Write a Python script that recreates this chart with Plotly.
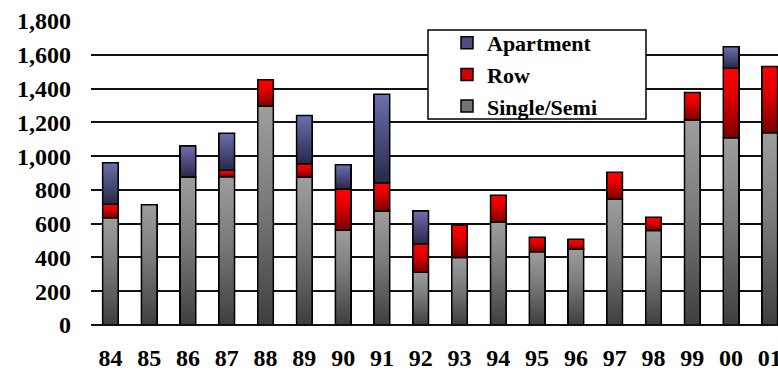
import plotly.graph_objects as go

# Housing starts by dwelling type, 1984-2001
years = ["84", "85", "86", "87", "88", "89", "90", "91", "92",
         "93", "94", "95", "96", "97", "98", "99", "00", "01"]
single_semi = [635, 712, 876, 878, 1297, 876, 562, 675, 312,
               399, 608, 434, 448, 746, 559, 1214, 1109, 1139]
row = [80, 0, 0, 38, 155, 79, 243, 166, 168,
       193, 160, 85, 59, 158, 79, 162, 411, 391]
apartment = [245, 0, 184, 219, 0, 285, 144, 525, 195,
             0, 0, 0, 0, 0, 0, 0, 128, 0]

series = [
    ("Single/Semi", single_semi, "#747474",
     [[0, "#3e3e3e"], [0.55, "#7a7a7a"], [1, "#9e9e9e"]]),
    ("Row", row, "#d40000",
     [[0, "#7a0000"], [0.6, "#e00000"], [1, "#ff0000"]]),
    ("Apartment", apartment, "#4e4e82",
     [[0, "#28284a"], [1, "#6e6eae"]]),
]

FONT = "Liberation Serif"
BAR_W = 0.4
idx = list(range(len(years)))

fig = go.Figure()

# stacked bars (data + legend entries)
for name, vals, solid, _ in series:
    fig.add_trace(go.Bar(
        x=idx, y=vals, name=name, width=BAR_W,
        marker=dict(color=solid, line=dict(color="black", width=1.5)),
    ))

# vertical gradient shading on each stacked segment
base = [0] * len(years)
for name, vals, solid, cscale in series:
    for i, v in enumerate(vals):
        if v <= 0:
            continue
        b, t = base[i], base[i] + v
        fig.add_trace(go.Scatter(
            x=[i - BAR_W / 2, i + BAR_W / 2, i + BAR_W / 2, i - BAR_W / 2, i - BAR_W / 2],
            y=[b, b, t, t, b],
            mode="lines", fill="toself",
            fillgradient=dict(type="vertical", colorscale=cscale, start=b, stop=t),
            line=dict(color="black", width=1.5),
            showlegend=False, hoverinfo="skip",
        ))
        base[i] = t

fig.update_layout(
    width=778, height=372,
    margin=dict(l=91, r=0, t=21, b=47),
    barmode="stack",
    plot_bgcolor="white", paper_bgcolor="white",
    font=dict(family=FONT, color="black"),
    showlegend=True,
    legend=dict(
        x=(447 - 91) / 687, xanchor="left",
        y=(325 - 22) / 304, yanchor="top",
        bgcolor="rgba(0,0,0,0)", borderwidth=0,
        traceorder="reversed",
        font=dict(family=FONT, size=22, color="black", weight="bold"),
    ),
    shapes=[dict(
        type="rect", xref="paper", yref="paper", layer="above",
        x0=(428 - 91) / 687, x1=(646 - 91) / 687,
        y0=(325 - 119) / 304, y1=(325 - 30) / 304,
        fillcolor="white", line=dict(color="black", width=1.5),
    )],
)

fig.update_xaxes(
    range=[-0.5, 17.21], tickmode="array", tickvals=idx, ticktext=years,
    showgrid=False, zeroline=False, showline=False, ticks="",
    ticklabelstandoff=16, ticklabeloverflow="allow", automargin=False,
    tickfont=dict(family=FONT, size=24, color="black", weight="bold"),
)
fig.update_yaxes(
    range=[0, 1800], dtick=200, tickformat=",",
    showgrid=True, gridcolor="#111111", gridwidth=1.6,
    zeroline=True, zerolinecolor="#111111", zerolinewidth=1.6,
    showline=False, ticks="", ticklabelstandoff=19, automargin=False,
    tickfont=dict(family=FONT, size=24, color="black", weight="bold"),
)

fig.write_html("out.html")
